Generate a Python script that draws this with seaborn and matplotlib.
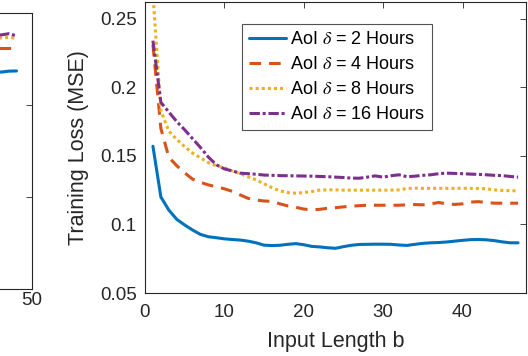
import numpy as np
import pandas as pd
import matplotlib
matplotlib.use("Agg")
import matplotlib.pyplot as plt
import seaborn as sns
from matplotlib.ticker import FuncFormatter

# ---------------- data ----------------
b = list(range(1, 48))

loss_2h = [0.157, 0.120, 0.1105, 0.1037, 0.0996, 0.0959, 0.0927, 0.0910, 0.0903, 0.0895,
           0.0890, 0.0886, 0.0878, 0.0866, 0.0849, 0.0846, 0.0848, 0.0855, 0.0860, 0.0852,
           0.0840, 0.0836, 0.0830, 0.0826, 0.0838, 0.0848, 0.0854, 0.0855, 0.0856, 0.0856,
           0.0855, 0.0850, 0.0847, 0.0855, 0.0862, 0.0866, 0.0868, 0.0872, 0.0878, 0.0884,
           0.0889, 0.0890, 0.0888, 0.0882, 0.0873, 0.0866, 0.0866]

loss_4h = [0.231, 0.170, 0.149, 0.1428, 0.1376, 0.133, 0.1307, 0.1288, 0.1274, 0.126,
           0.1241, 0.1215, 0.119, 0.1178, 0.1171, 0.1168, 0.1150, 0.1135, 0.1125, 0.1112,
           0.1107, 0.1110, 0.1118, 0.1122, 0.1128, 0.1133, 0.1137, 0.1140, 0.1140, 0.1140,
           0.1140, 0.1140, 0.1143, 0.1145, 0.1143, 0.1150, 0.1160, 0.1150, 0.1146, 0.1150,
           0.1163, 0.1166, 0.1160, 0.1155, 0.1155, 0.1155, 0.1155]

loss_8h = [0.268, 0.183, 0.168, 0.162, 0.1567, 0.152, 0.1486, 0.145, 0.1428, 0.1413,
           0.139, 0.137, 0.1347, 0.1325, 0.1296, 0.1268, 0.1245, 0.1232, 0.1228, 0.1232,
           0.1240, 0.1250, 0.1252, 0.1252, 0.1250, 0.1250, 0.1250, 0.1250, 0.1250, 0.1250,
           0.1250, 0.1252, 0.1262, 0.1265, 0.1263, 0.1263, 0.1264, 0.1263, 0.1263, 0.1264,
           0.1263, 0.1262, 0.1260, 0.1252, 0.1248, 0.1246, 0.1245]

loss_16h = [0.234, 0.189, 0.182, 0.175, 0.169, 0.1625, 0.156, 0.149, 0.1435, 0.1405,
            0.139, 0.1374, 0.137, 0.1366, 0.136, 0.1358, 0.1356, 0.1355, 0.1354, 0.1353,
            0.1352, 0.1350, 0.1348, 0.1345, 0.1342, 0.1338, 0.1337, 0.1345, 0.1354, 0.1345,
            0.1355, 0.1362, 0.1348, 0.1352, 0.1358, 0.1362, 0.1370, 0.1374, 0.1372, 0.1370,
            0.1367, 0.1365, 0.1362, 0.1358, 0.1356, 0.1350, 0.1345]

# tail of the neighbouring (cropped) panel on the left
b_left = [44, 45, 46, 47, 48]
left_2h = [0.2355, 0.2357, 0.2358, 0.2368, 0.2370]
left_4h = [0.2622, 0.2623, 0.2623, 0.2623, 0.2623]
left_8h = [0.2728, 0.2728, 0.2730, 0.2735, 0.2725]
left_16h = [0.2755, 0.2758, 0.2762, 0.2775, 0.2752]
left_x_ticks = [50]
left_y_ticks = [0.1, 0.2]

labels = [r"AoI $\delta$ = 2 Hours", r"AoI $\delta$ = 4 Hours",
          r"AoI $\delta$ = 8 Hours", r"AoI $\delta$ = 16 Hours"]
x_ticks = [0, 10, 20, 30, 40]
y_ticks = [0.05, 0.1, 0.15, 0.2, 0.25]

# ---------------- style ----------------
sns.set_style("white")
plt.rcParams["font.family"] = ["Liberation Sans", "DejaVu Sans"]
plt.rcParams["mathtext.fontset"] = "stix"

colors = ["#0072BD", "#D95319", "#EDB120", "#7E2F8E"]
styles = ["-", (0, (3.8, 2.6)), (0, (1.0, 1.0)), (0, (3.4, 0.9, 1.0, 0.9))]
LW = 2.2
AX = "#262626"

W, H = 528, 356
fig = plt.figure(figsize=(W / 100, H / 100), dpi=100)

def frac(l, t, r, btm):
    return [l / W, (H - btm) / H, (r - l) / W, (btm - t) / H]

# ----- left cropped panel -----
axl = fig.add_axes(frac(31.7 - 380, 13, 31.7, 289))
for ys, c, ls in zip([left_2h, left_4h, left_8h, left_16h], colors, styles):
    sns.lineplot(x=b_left, y=ys, ax=axl, color=c, linewidth=LW, linestyle=ls,
                 dash_capstyle="butt")
axl.set_xlim(0, 50)
axl.set_ylim(0, 0.3)
axl.set_xticks(left_x_ticks)
axl.set_yticks(left_y_ticks)
axl.set_yticklabels([])
axl.tick_params(direction="in", top=True, right=True, length=4, width=0.6,
                color=AX, labelcolor=AX, labelsize=13.5)
axl.tick_params(axis="x", pad=2)
for s in axl.spines.values():
    s.set_color(AX)
    s.set_linewidth(0.8)

# ----- main panel -----
ax = fig.add_axes(frac(145, 2, 526, 293))
for ys, c, ls, lab in zip([loss_2h, loss_4h, loss_8h, loss_16h], colors, styles, labels):
    sns.lineplot(x=b, y=ys, ax=ax, color=c, linewidth=LW, linestyle=ls,
                 dash_capstyle="butt", label=lab)

ax.set_xlim(0, 48)
ax.set_ylim(0.05, 0.2622)
ax.set_xticks(x_ticks)
ax.set_yticks(y_ticks)
ax.yaxis.set_major_formatter(FuncFormatter(lambda v, p: f"{v:g}"))
ax.tick_params(direction="in", top=True, right=True, length=4, width=0.6,
               color=AX, labelcolor=AX, labelsize=13.5)
ax.tick_params(axis="x", pad=8)
ax.tick_params(axis="y", pad=6)
for s in ax.spines.values():
    s.set_color(AX)
    s.set_linewidth(0.8)

ax.set_xlabel("Input Length b", fontsize=15.5, color=AX, labelpad=7)
ax.set_ylabel("Training Loss (MSE)", fontsize=15.5, color=AX, labelpad=8)

leg = ax.legend(loc="upper left", bbox_to_anchor=((242 - 145) / 381, (293 - 24) / 291),
                borderaxespad=0, fontsize=13.0, handlelength=2.05, handletextpad=0.25,
                borderpad=0.38, labelspacing=0.45, frameon=True, fancybox=False)
leg.get_frame().set_edgecolor(AX)
leg.get_frame().set_linewidth(0.8)
for t in leg.get_texts():
    t.set_color("black")

fig.savefig("out.png", dpi=100)
